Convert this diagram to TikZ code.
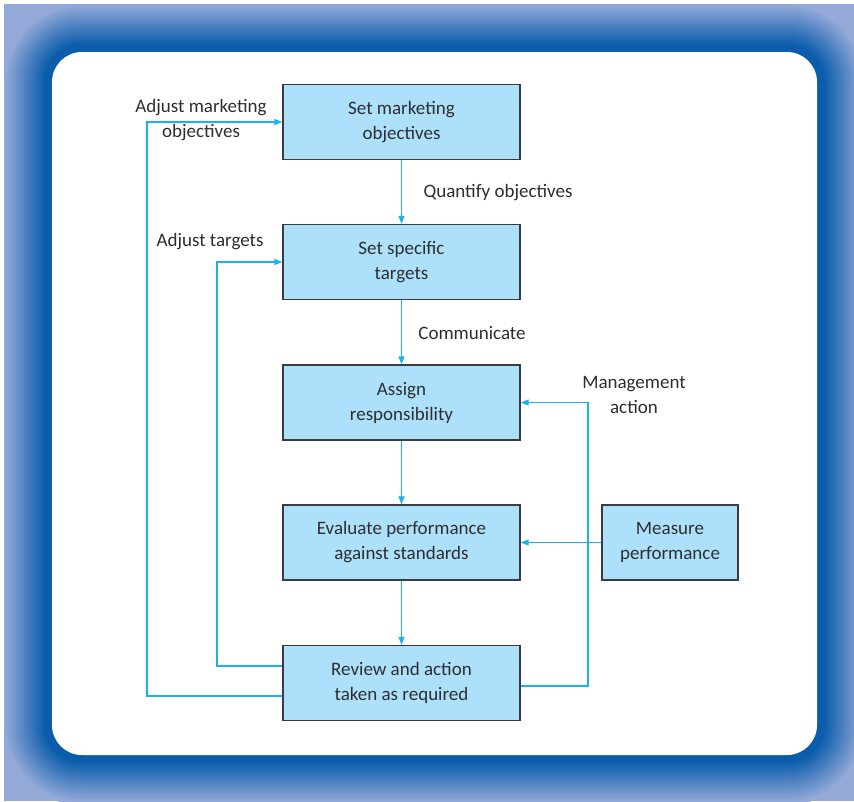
\documentclass[tikz,border=0pt]{standalone}
\usepackage{fontspec}
\setmainfont{Carlito}
\usetikzlibrary{arrows.meta}
\definecolor{framedark}{HTML}{0B5DAC}
\definecolor{framelite}{HTML}{93A9D8}
\definecolor{boxfill}{HTML}{ADE0FA}
\definecolor{boxline}{HTML}{3A3C40}
\definecolor{conn}{HTML}{19B2EA}
\definecolor{txt}{HTML}{2E2E2E}
\tikzset{
  stepbox/.style={draw=boxline, line width=1.4pt, fill=boxfill, minimum width=237pt, minimum height=75pt, align=center, text=txt, inner sep=0pt},
  lbl/.style={align=center, text=txt, inner sep=0pt},
  link/.style={draw=conn, line width=1.3pt, -{Triangle[length=8pt,width=6pt]}},
  plain/.style={draw=conn, line width=1.3pt}
}
\begin{document}
\begin{tikzpicture}[x=1pt,y=-1pt,font=\fontsize{19}{25}\selectfont]
\useasboundingbox (0,0) rectangle (854,801);
\fill[white] (0,0) rectangle (854,801);
\begin{scope}
\clip (4,4) rectangle (854,801);
\fill[framelite] (4,4) rectangle (854,801);
\foreach \d in {50,48,...,0} {
  \pgfmathsetmacro\p{max(0,min(100,(\d-8)*2.5))}
  \pgfmathsetmacro\r{30+\d}
  \fill[framelite!\p!framedark, rounded corners=\r pt] ({52-\d},{52-\d}) rectangle ({817+\d},{755+\d});
}
\end{scope}
\fill[white, rounded corners=30pt] (52,52) rectangle (817,755);

\node[stepbox] (b1) at (401.5,122) {Set marketing\\objectives};
\node[stepbox] (b2) at (401.5,262) {Set specific\\targets};
\node[stepbox] (b3) at (401.5,402.5) {Assign\\responsibility};
\node[stepbox] (b4) at (401.5,542.5) {Evaluate performance\\against standards};
\node[stepbox] (b5) at (401.5,683) {Review and action\\taken as required};
\node[stepbox, minimum width=136pt] (mp) at (670,542.5) {Measure\\performance};

\draw[link] (b1) -- (b2);
\draw[link] (b2) -- (b3);
\draw[link] (b3) -- (b4);
\draw[link] (b4) -- (b5);
\draw[link] (mp) -- (b4);

\coordinate (l1) at (147,0);
\coordinate (l2) at (217,0);
\coordinate (r1) at (588,0);
\draw[link] ([yshift=-13pt]b5.west) -- ([yshift=-13pt]b5.west -| l1) -- (l1 |- b1.west) -- (b1.west);
\draw[link] ([yshift=17pt]b5.west) -- ([yshift=17pt]b5.west -| l2) -- (l2 |- b2.west) -- (b2.west);
\draw[link] ([yshift=-3pt]b5.east) -- ([yshift=-3pt]b5.east -| r1) -- (r1 |- b3.east) -- (b3.east);

\node[lbl] (t1) at (201,120.5) {Adjust marketing\\objectives};
\node[lbl] (t2) at (498,193) {Quantify objectives};
\node[lbl] (t3) at (210,242) {Adjust targets};
\node[lbl] (t4) at (472,333) {Communicate};
\node[lbl] (t5) at (634,394.5) {Management\\action};
\end{tikzpicture}
\end{document}
